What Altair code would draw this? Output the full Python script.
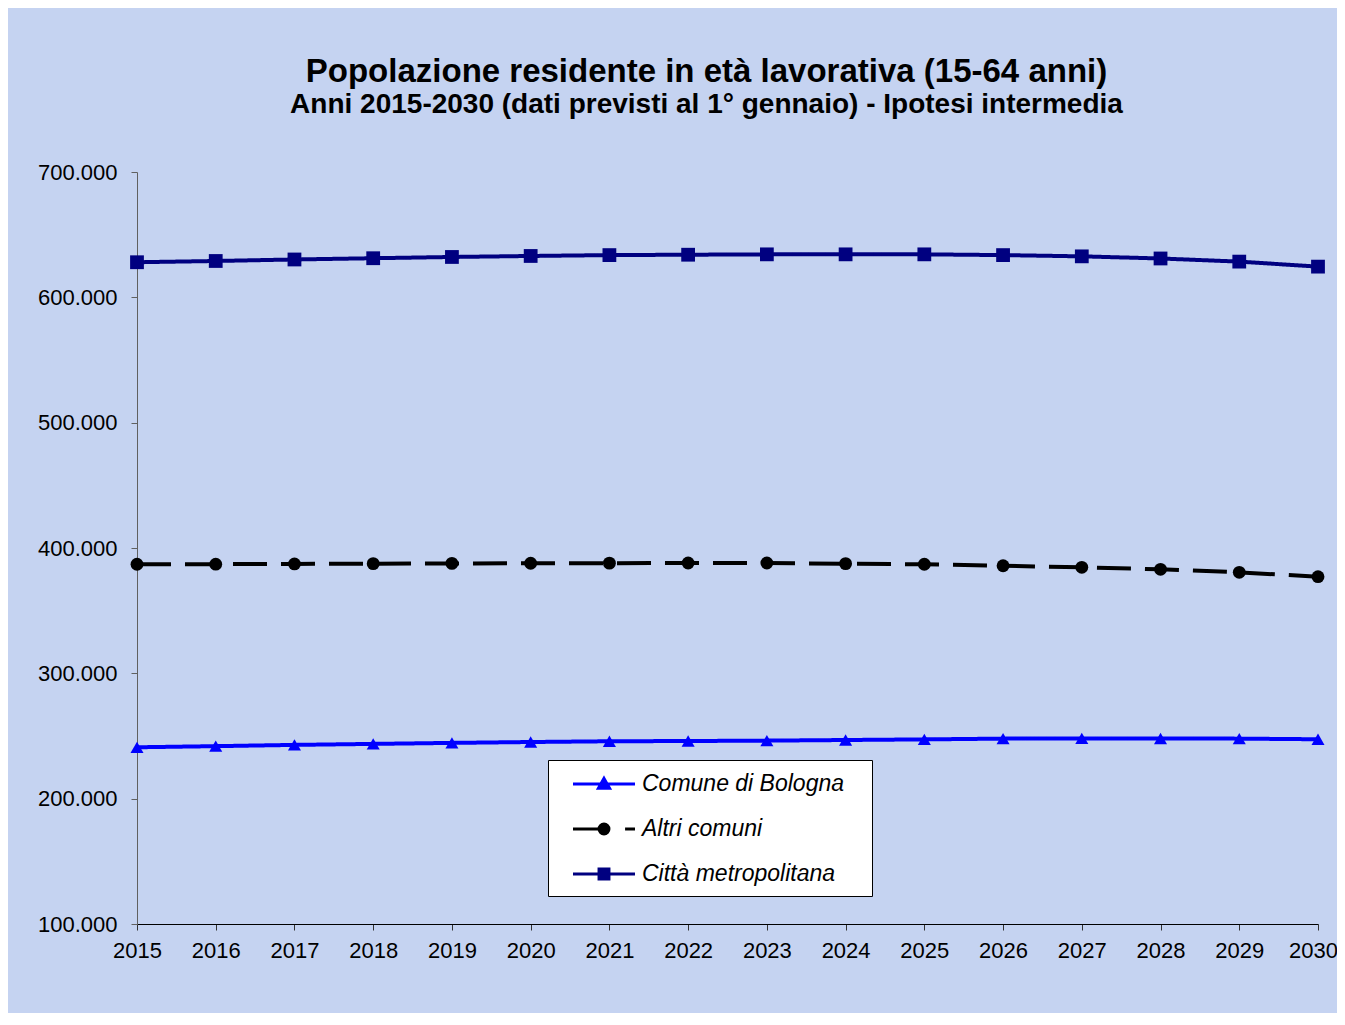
import altair as alt
import pandas as pd

# ---- data ----
anni = [2015, 2016, 2017, 2018, 2019, 2020, 2021, 2022,
        2023, 2024, 2025, 2026, 2027, 2028, 2029, 2030]
comune_bologna = [241000, 241900, 242900, 243700, 244500, 245200, 245800, 246000,
                  246300, 246800, 247300, 247900, 248100, 248000, 247900, 247400]
altri_comuni = [387000, 387100, 387300, 387500, 387700, 387800, 387900, 388000,
                388000, 387500, 387000, 385800, 384600, 383000, 380600, 377100]
citta_metropolitana = [628000, 629000, 630200, 631200, 632200, 633000, 633700, 634000,
                       634300, 634300, 634300, 633700, 632700, 631000, 628500, 624500]
serie_nomi = ["Comune di Bologna", "Altri comuni", "Città metropolitana"]
y_ticks = [100000, 200000, 300000, 400000, 500000, 600000, 700000]

serie_valori = [comune_bologna, altri_comuni, citta_metropolitana]
rows = []
for nome, valori in zip(serie_nomi, serie_valori):
    for a, v in zip(anni, valori):
        rows.append({"serie": nome, "anno": a, "valore": v})
df = pd.DataFrame(rows)

colori = ["#0000ff", "#000000", "#000080"]
forme = ["triangle-up", "circle", "square"]
misure = [170, 165, 190]
tratti = [[1, 0], [34, 14], [1, 0]]
legend_paths = [
    "M-2.5,0L2.5,0M0,-0.45L0.45,0.35L-0.45,0.35Z",
    "M-2.5,0L0,0M1.7,0L2.5,0M0.4,0A0.4,0.4,0,1,1,-0.4,0A0.4,0.4,0,1,1,0.4,0Z",
    "M-2.5,0L2.5,0M-0.4,-0.4L0.4,-0.4L0.4,0.4L-0.4,0.4Z",
]

FONT = "Liberation Sans"

x_enc = alt.X(
    "anno:Q",
    scale=alt.Scale(domain=[2015, 2030], nice=False, zero=False),
    axis=alt.Axis(
        values=anni, format="d", title=None, grid=False,
        labelFont=FONT, labelFontSize=22, labelColor="black",
        labelPadding=10, labelFlush=False, labelOverlap=False,
        labelOffset={"condition": {"test": "datum.value == 2030", "value": -5}, "value": 0},
        tickSize=6, tickColor="#333333", domainColor="#000000", domainWidth=1,
    ),
)
y_enc = alt.Y(
    "valore:Q",
    scale=alt.Scale(domain=[100000, 700000], nice=False, zero=False),
    axis=alt.Axis(
        values=y_ticks, title=None, grid=False,
        labelExpr="replace(format(datum.value, ','), ',', '.')",
        labelFont=FONT, labelFontSize=22, labelColor="black",
        labelPadding=14, labelFlush=False, labelOverlap=False,
        tickSize=6, tickColor="#606060", domainColor="#606060", domainWidth=1,
    ),
)

base = alt.Chart(df)
layers = []
for nome, col, forma, dim, dash in zip(serie_nomi, colori, forme, misure, tratti):
    sub = base.transform_filter(alt.datum.serie == nome)
    layers.append(
        sub.mark_line(color=col, strokeWidth=4, strokeDash=dash).encode(x=x_enc, y=y_enc)
    )
    layers.append(
        sub.mark_point(shape=forma, filled=True, size=dim, color=col, opacity=1).encode(x=x_enc, y=y_enc)
    )

leg = alt.Legend(
    title=None, orient="none", legendX=411, legendY=588,
    fillColor="white", strokeColor="black",
    padding=10, rowPadding=19, symbolSize=615, symbolStrokeWidth=3,
    symbolOffset=32, labelOffset=24, labelFont=FONT, labelFontSize=23,
    labelFontStyle="italic", labelColor="black", labelLimit=400,
    labelExpr="datum.label + '\u2800'",
)
legend_layer = base.transform_filter("false").mark_point(filled=True, opacity=1).encode(
    x=x_enc, y=y_enc,
    fill=alt.Fill("serie:N", scale=alt.Scale(domain=serie_nomi, range=colori), legend=leg),
    stroke=alt.Stroke("serie:N", scale=alt.Scale(domain=serie_nomi, range=colori), legend=leg),
    shape=alt.Shape("serie:N", scale=alt.Scale(domain=serie_nomi, range=legend_paths), legend=leg),
)
layers.append(legend_layer)

chart = alt.layer(*layers).properties(
    width=1181,
    height=752,
    autosize="none",
    padding={"left": 129, "top": 164, "right": 19, "bottom": 89},
    background="#c5d3f1",
    title=alt.Title(
        text="Popolazione residente in età lavorativa (15-64 anni)",
        subtitle="Anni 2015-2030 (dati previsti al 1° gennaio) - Ipotesi intermedia",
        font=FONT, fontSize=33, fontWeight="bold", color="black",
        subtitleFont=FONT, subtitleFontSize=28, subtitleFontWeight="bold",
        subtitleColor="black", subtitlePadding=2,
        anchor="middle", frame="group", dx=-21, offset=42,
    ),
).configure_view(stroke=None)

chart.save("out.html", embed_options={"renderer": "svg", "actions": False})
